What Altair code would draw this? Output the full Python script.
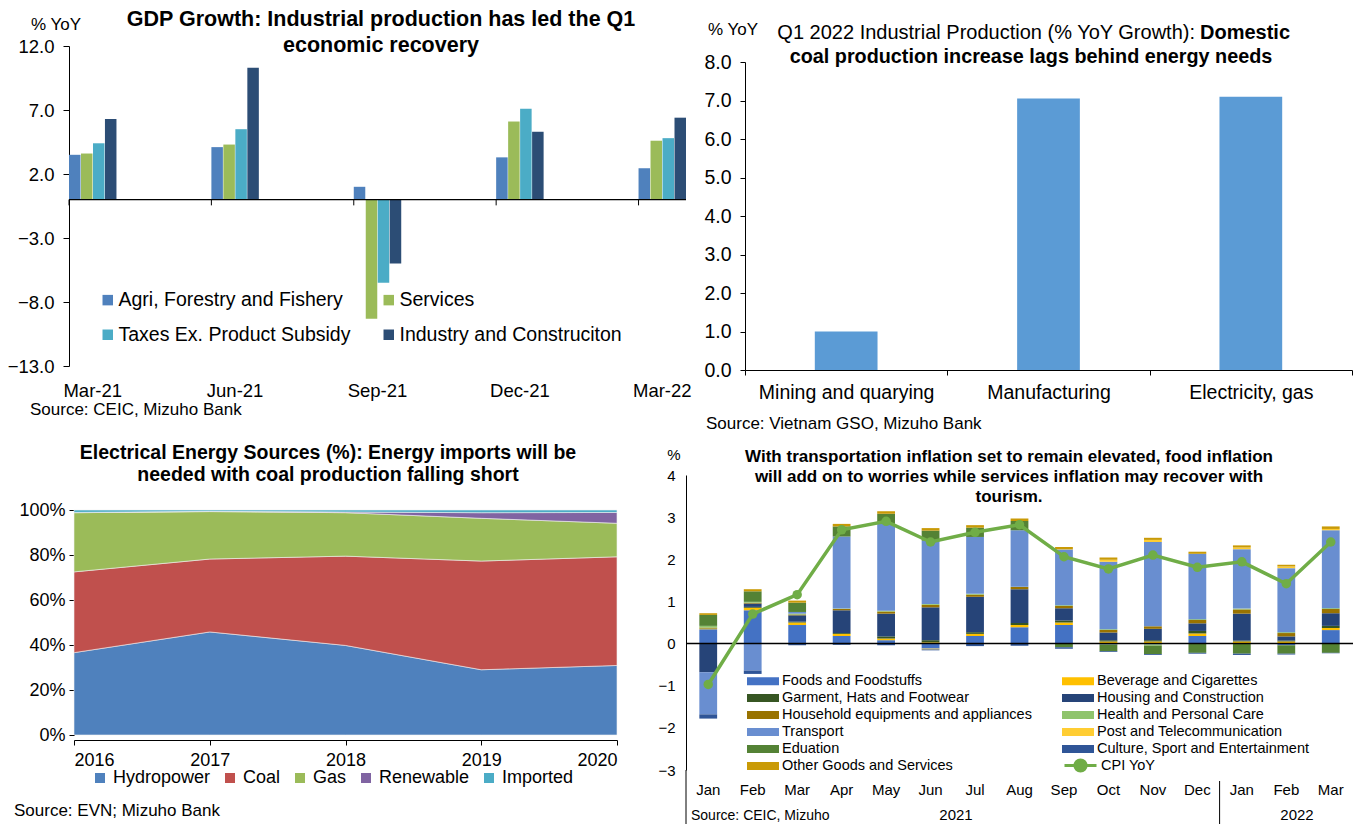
import altair as alt
import pandas as pd

FONT = "Liberation Sans"

# ---------------- Panel 1: GDP growth ----------------
gdp_months = ["Mar-21", "Apr-21", "May-21", "Jun-21", "Jul-21", "Aug-21", "Sep-21",
              "Oct-21", "Nov-21", "Dec-21", "Jan-22", "Feb-22", "Mar-22"]
gdp_quarters = ["Mar-21", "Jun-21", "Sep-21", "Dec-21", "Mar-22"]
gdp_series = ["Agri, Forestry and Fishery", "Services",
              "Taxes Ex. Product Subsidy", "Industry and Construciton"]
gdp_agri = [3.5, 4.1, 1.0, 3.3, 2.45]
gdp_services = [3.6, 4.3, -9.3, 6.1, 4.6]
gdp_taxes = [4.4, 5.5, -6.5, 7.1, 4.8]
gdp_industry = [6.3, 10.3, -5.0, 5.3, 6.4]
gdp_colors = ["#4F81BD", "#9BBB59", "#4BACC6", "#2C4D75"]
gdp_ticks = [-13, -8, -3, 2, 7, 12]

# ---------------- Panel 2: Industrial production ----------------
ip_cats = ["Mining and quarying", "Manufacturing", "Electricity, gas"]
ip_vals = [1.0, 7.05, 7.1]

# ---------------- Panel 3: Energy sources ----------------
en_years = [2016, 2017, 2018, 2019, 2020]
en_sources = ["Hydropower", "Coal", "Gas", "Renewable", "Imported"]
en_hydro = [36.6, 45.8, 39.8, 29.0, 30.9]
en_coal = [35.9, 32.4, 39.7, 48.3, 48.3]
en_gas = [26.3, 21.1, 19.3, 19.0, 14.9]
en_renew = [0.1, 0.1, 0.3, 2.5, 4.8]
en_imported = [1.1, 0.6, 0.9, 1.2, 1.1]
en_colors = ["#4F81BD", "#C0504D", "#9BBB59", "#8064A2", "#4BACC6"]

# ---------------- Panel 4: CPI contributions ----------------
cpi_keys = ["Jan 2021", "Feb 2021", "Mar 2021", "Apr 2021", "May 2021", "Jun 2021",
            "Jul 2021", "Aug 2021", "Sep 2021", "Oct 2021", "Nov 2021", "Dec 2021",
            "Jan 2022", "Feb 2022", "Mar 2022"]
cpi_cats = ["Foods and Foodstuffs", "Beverage and Cigarettes", "Garment, Hats and Footwear",
            "Housing and Construction", "Household equipments and appliances",
            "Health and Personal Care", "Transport", "Post and Telecommunication",
            "Eduation", "Culture, Sport and Entertainment", "Other Goods and Services"]
cpi_colors = ["#4472C4", "#FFC000", "#375623", "#264478", "#997300", "#8FC46C",
              "#698ED0", "#FFCD33", "#548235", "#2F5597", "#C99A06"]
c_foods = [0.34, 0.79, 0.44, 0.18, 0.08, -0.12, 0.18, 0.39, 0.44, -0.02, -0.02, 0.18, 0.0, -0.04, 0.32]
c_bev = [0.02, 0.06, 0.06, 0.05, 0.04, 0.03, 0.05, 0.05, 0.06, 0.05, 0.05, 0.06, 0.05, 0.05, 0.05]
c_garment = [0.01, 0.02, 0.02, 0.02, 0.05, 0.05, 0.04, 0.05, 0.05, 0.03, 0.03, 0.06, 0.02, 0.02, 0.05]
c_housing = [-0.68, 0.08, 0.15, 0.54, 0.54, 0.78, 0.84, 0.80, 0.29, 0.18, 0.27, 0.18, 0.64, 0.10, 0.30]
c_household = [0.01, 0.02, 0.02, 0.03, 0.05, 0.06, 0.05, 0.05, 0.05, 0.06, 0.06, 0.08, 0.10, 0.08, 0.10]
c_health = [0.04, 0.02, 0.02, 0.01, 0.02, 0.02, 0.02, 0.01, 0.02, 0.02, -0.03, 0.02, 0.02, 0.02, 0.02]
c_transport = [-1.00, -0.64, 0.04, 1.71, 2.06, 1.50, 1.35, 1.34, 1.32, 1.60, 2.00, 1.55, 1.41, 1.52, 1.85]
c_post = [0.0, 0.0, 0.0, 0.0, 0.0, -0.02, 0.0, 0.0, 0.01, 0.05, 0.05, 0.0, 0.04, 0.04, 0.03]
c_edu = [0.26, 0.25, 0.22, 0.24, 0.24, 0.24, 0.22, 0.22, -0.09, -0.16, -0.20, -0.22, -0.24, -0.20, -0.22]
c_culture = [-0.10, -0.08, -0.04, -0.03, -0.04, -0.02, -0.06, -0.05, -0.03, -0.02, -0.02, -0.02, -0.03, -0.02, -0.01]
c_other = [0.04, 0.05, 0.05, 0.06, 0.06, 0.06, 0.06, 0.06, 0.05, 0.05, 0.05, 0.05, 0.05, 0.04, 0.06]
cpi_yoy = [-0.97, 0.70, 1.16, 2.70, 2.90, 2.41, 2.64, 2.82, 2.06, 1.77, 2.10, 1.81, 1.94, 1.42, 2.41]


def txt(s, x, y, size, bold=False, align="center", baseline="middle"):
    return alt.Chart(pd.DataFrame({"t": [s]})).mark_text(
        font=FONT, fontSize=size, fontWeight="bold" if bold else "normal",
        align=align, baseline=baseline, color="black"
    ).encode(text="t:N", x=alt.value(x), y=alt.value(y))


# ======== Panel 1 ========
rows = []
for s, vals in zip(gdp_series, [gdp_agri, gdp_services, gdp_taxes, gdp_industry]):
    for q, v in zip(gdp_quarters, vals):
        rows.append({"month": q, "series": s, "value": v})
gdp_df = pd.DataFrame(rows)

x1_scale = alt.Scale(domain=gdp_months, paddingInner=0, paddingOuter=0)
x1_axis = alt.Axis(values=gdp_quarters, ticks=False, domain=False, labelAngle=0,
                   labelPadding=15, labelFontSize=18.5, title=None)
y1_scale = alt.Scale(domain=[-13, 12], nice=False, zero=False)
y1_axis = alt.Axis(values=gdp_ticks, format=".1f", tickSize=6, labelPadding=9,
                   labelFontSize=18.5, title=None, grid=False)

p1_bars = alt.Chart(gdp_df).mark_bar().encode(
    x=alt.X("month:N", scale=x1_scale, axis=x1_axis),
    xOffset=alt.XOffset("series:N", scale=alt.Scale(domain=gdp_series, paddingInner=0.04)),
    y=alt.Y("value:Q", scale=y1_scale, axis=y1_axis),
    color=alt.Color("series:N", scale=alt.Scale(domain=gdp_series, range=gdp_colors),
                    legend=alt.Legend(orient="none", legendX=29, legendY=244, columns=2,
                                      direction="horizontal",
                                      symbolType="square", symbolSize=110, symbolStrokeWidth=0,
                                      labelFontSize=19.5, labelFont=FONT, labelOffset=1,
                                      columnPadding=28, rowPadding=14, labelLimit=500,
                                      title=None)),
)
p1_zero = alt.Chart(pd.DataFrame({"v": [0]})).mark_rule(color="black", strokeWidth=1.2).encode(
    y=alt.Y("v:Q", scale=y1_scale, axis=y1_axis))
p1_ticks = alt.Chart(pd.DataFrame({"month": gdp_quarters})).mark_rule(color="black").encode(
    x=alt.X("month:N", scale=x1_scale, axis=x1_axis, bandPosition=0),
    y=alt.datum(0), y2=alt.datum(-0.45))
p1_anchor = alt.Chart(pd.DataFrame({"a": [0]})).mark_square(size=1, color="white", opacity=1).encode(
    x=alt.value(-68.5), y=alt.value(-45.5))

p1 = alt.layer(
    p1_bars, p1_zero, p1_ticks, p1_anchor,
    txt("GDP Growth: Industrial production has led the Q1", 312, -26, 21.5, bold=True),
    txt("economic recovery", 312, 0, 21.5, bold=True),
    txt("% YoY", -13, -21, 17),
    txt("Source: CEIC, Mizuho Bank", -39, 364, 17, align="left"),
).properties(width=617, height=320)

# ======== Panel 2 ========
ip_df = pd.DataFrame({"cat": ip_cats, "v": ip_vals})
p2_bars = alt.Chart(ip_df).mark_bar(width=alt.RelativeBandSize(0.31), color="#5B9BD5").encode(
    x=alt.X("cat:N", scale=alt.Scale(domain=ip_cats, paddingInner=0, paddingOuter=0, range=[59, 666]),
            axis=alt.Axis(labelAngle=0, tickBand="extent", tickSize=5, labelPadding=8,
                          labelFontSize=19.5, title=None)),
    y=alt.Y("v:Q", scale=alt.Scale(domain=[0, 8], range=[324, 16], nice=False),
            axis=alt.Axis(values=[0, 1, 2, 3, 4, 5, 6, 7, 8], format=".1f", tickSize=5,
                          labelPadding=9, labelFontSize=19.5, offset=-59, title=None, grid=False)),
)
p2 = alt.layer(
    p2_bars,
    txt("Q1 2022 Industrial Production (% YoY Growth):", 509, -13, 20, align="right"),
    txt("Domestic", 514, -13, 20, bold=True, align="left"),
    txt("coal production increase lags behind energy needs", 345, 11, 19.8, bold=True),
    txt("% YoY", 47, -16, 17),
    txt("Source: Vietnam GSO, Mizuho Bank", 20, 378, 17, align="left"),
).properties(width=667, height=324)

# ======== Panel 3 ========
rows = []
for i, (s, vals) in enumerate(zip(en_sources, [en_hydro, en_coal, en_gas, en_renew, en_imported])):
    for yr, v in zip(en_years, vals):
        rows.append({"year": yr, "source": s, "share": v, "idx": i})
en_df = pd.DataFrame(rows)
p3_area = alt.Chart(en_df).mark_area(stroke="#F2F2F2", strokeWidth=0.6).encode(
    x=alt.X("year:Q", scale=alt.Scale(domain=[2016, 2020], range=[5, 548], nice=False, zero=False),
            axis=alt.Axis(values=en_years, format="d", tickSize=5, labelPadding=6,
                          labelFontSize=18, title=None, grid=False)),
    y=alt.Y("share:Q", stack="zero", scale=alt.Scale(domain=[0, 100], range=[260, 35], nice=False),
            axis=alt.Axis(values=[0, 20, 40, 60, 80, 100], labelExpr="datum.value + '%'",
                          tickSize=5, labelPadding=4, labelFontSize=18, offset=-5,
                          title=None, grid=False)),
    color=alt.Color("source:N", scale=alt.Scale(domain=en_sources, range=en_colors),
                    legend=alt.Legend(orient="none", legendX=22, legendY=294, direction="horizontal",
                                      symbolType="square", symbolSize=100, symbolStrokeWidth=0,
                                      labelFontSize=18, labelFont=FONT, labelOffset=4,
                                      columnPadding=10, title=None)),
    order=alt.Order("idx:Q"),
)
p3 = alt.layer(
    p3_area,
    txt("Electrical Energy Sources (%): Energy imports will be", 259, -22, 19.5, bold=True),
    txt("needed with coal production falling short", 259, 0, 19.5, bold=True),
    txt("Source: EVN; Mizuho Bank", -55, 336, 17, align="left"),
).properties(width=617, height=265)

# ======== Panel 4 ========
rows = []
cols = [c_foods, c_bev, c_garment, c_housing, c_household, c_health, c_transport,
        c_post, c_edu, c_culture, c_other]
for i, (c, vals) in enumerate(zip(cpi_cats, cols)):
    for k, v in zip(cpi_keys, vals):
        rows.append({"m": k, "cat": c, "v": v, "idx": i})
cpi_df = pd.DataFrame(rows)
line_df = pd.DataFrame({"m": cpi_keys, "cpi": cpi_yoy, "s": ["CPI YoY"] * len(cpi_keys)})

x4_scale = alt.Scale(domain=cpi_keys, paddingInner=0, paddingOuter=0)
x4_axis = alt.Axis(labelExpr="split(datum.label, ' ')[0]", ticks=False, domain=False,
                   labelAngle=0, labelPadding=12, labelFontSize=15, title=None)
y4_scale = alt.Scale(domain=[-3, 4], nice=False, zero=False)
y4_axis = alt.Axis(values=[-3, -2, -1, 0, 1, 2, 3, 4], ticks=False, labelPadding=11,
                   labelFontSize=15, title=None, grid=False)

rect_path = "M-2,-0.5H2V0.5H-2Z"
line_path = "M-2,0H-0.7M0.7,0H2M-0.7,0A0.7,0.7 0 1,0 0.7,0A0.7,0.7 0 1,0 -0.7,0"

p4_bars = alt.Chart(cpi_df).mark_bar(width=alt.RelativeBandSize(0.4)).encode(
    x=alt.X("m:N", scale=x4_scale, axis=x4_axis),
    y=alt.Y("v:Q", stack="zero", scale=y4_scale, axis=y4_axis),
    color=alt.Color("cat:N", scale=alt.Scale(domain=cpi_cats, range=cpi_colors),
                    legend=alt.Legend(orient="none", legendX=69, legendY=198, columns=2,
                                      direction="horizontal",
                                      symbolType=rect_path, symbolSize=256, symbolStrokeWidth=0,
                                      labelFontSize=14.5, labelFont=FONT, labelOffset=11,
                                      columnPadding=30, rowPadding=2, labelLimit=500,
                                      title=None)),
    order=alt.Order("idx:Q"),
)
p4_zero = alt.Chart(pd.DataFrame({"v": [0]})).mark_rule(color="black", strokeWidth=1.5).encode(
    y=alt.Y("v:Q", scale=y4_scale, axis=y4_axis))
p4_line = alt.Chart(line_df).mark_line(strokeWidth=3.5).encode(
    x=alt.X("m:N", scale=x4_scale, axis=x4_axis),
    y=alt.Y("cpi:Q", scale=y4_scale, axis=y4_axis),
    stroke=alt.Stroke("s:N", scale=alt.Scale(domain=["CPI YoY"], range=["#70AD47"]),
                      legend=alt.Legend(orient="none", legendX=385, legendY=281,
                                        symbolType=line_path, symbolSize=256,
                                        symbolStrokeWidth=3, symbolFillColor="#70AD47",
                                        labelFontSize=14.5, labelFont=FONT, labelOffset=11,
                                        title=None)),
)
p4_points = alt.Chart(line_df).mark_point(filled=True, size=90, color="#70AD47", opacity=1).encode(
    x=alt.X("m:N", scale=x4_scale, axis=x4_axis),
    y=alt.Y("cpi:Q", scale=y4_scale, axis=y4_axis),
)
p4_axis_ext = alt.Chart(pd.DataFrame({"a": [0]})).mark_rule(color="black").encode(
    x=alt.value(0), y=alt.value(295), y2=alt.value(349))
p4_sep = alt.Chart(pd.DataFrame({"m": ["Jan 2022"]})).mark_rule(color="black").encode(
    x=alt.X("m:N", scale=x4_scale, axis=x4_axis, bandPosition=0),
    y=alt.value(306), y2=alt.value(349))

p4 = alt.layer(
    p4_bars, p4_zero, p4_line, p4_points, p4_axis_ext, p4_sep,
    txt("With transportation inflation set to remain elevated, food inflation", 323, -18, 17, bold=True),
    txt("will add on to worries while services inflation may recover with", 323, 2, 17, bold=True),
    txt("tourism.", 323, 22, 17, bold=True),
    txt("%", -12, -20, 15),
    txt("2021", 270, 340, 15),
    txt("2022", 611, 340, 15),
    txt("Source: CEIC, Mizuho", 5, 341, 14, align="left"),
).properties(width=667, height=295)

chart = alt.concat(
    p1, p2, p3, p4, columns=2,
    spacing={"row": 105, "column": 0}, bounds="flush"
).resolve_scale(
    color="independent", stroke="independent"
).resolve_legend(
    color="independent", stroke="independent"
).properties(padding=0).configure_view(strokeWidth=0).configure_axis(
    labelFont=FONT, labelColor="black", domainColor="black", tickColor="black"
).configure_legend(labelFont=FONT, labelColor="black")

chart.save("out.html", embed_options={"renderer": "svg", "actions": False})
